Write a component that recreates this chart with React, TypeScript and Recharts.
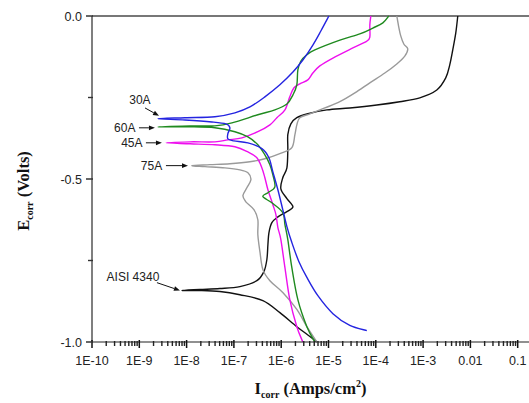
import React from "react";
import { LineChart, Line, XAxis, YAxis, ReferenceLine, ReferenceDot } from "recharts";

// polarization curves, path order: cathodic end -> Ecorr tip -> anodic end
const aisiI = [5.68e-6, 4.04e-6, 2.14e-6, 9.38e-7, 4.1e-7, 1.34e-7, 5.06e-8, 1.91e-8, 7.98e-9, 1.91e-8, 5.06e-8, 1.34e-7, 3.06e-7, 4.31e-7, 4.98e-7, 5.24e-7, 5.5e-7, 6.35e-7, 8.51e-7, 1.32e-6, 1.77e-6, 1.32e-6, 9.84e-7, 1.08e-6, 1.32e-6, 1.38e-6, 1.38e-6, 1.6e-6, 2.14e-6, 3.66e-6, 9.23e-6, 2.82e-5, 1.05e-4, 3.21e-4, 8.51e-4, 1.95e-3, 3.01e-3, 3.66e-3, 4.24e-3, 4.91e-3, 5.41e-3];
const aisiE = [-1.0, -0.983, -0.953, -0.91, -0.873, -0.855, -0.845, -0.842, -0.842, -0.839, -0.836, -0.83, -0.812, -0.784, -0.747, -0.701, -0.665, -0.634, -0.616, -0.6, -0.585, -0.56, -0.53, -0.496, -0.466, -0.41, -0.364, -0.331, -0.312, -0.3, -0.288, -0.282, -0.273, -0.263, -0.251, -0.227, -0.19, -0.15, -0.104, -0.052, 0];

const a30I = [6.46e-5, 2.82e-5, 1.24e-5, 5.96e-6, 3.49e-6, 2.36e-6, 1.68e-6, 1.32e-6, 1.08e-6, 8.51e-7, 6.67e-7, 5.5e-7, 3.91e-7, 1.98e-7, 1.0e-7, 7.46e-8, 7.46e-8, 8.24e-8, 6.78e-8, 3.43e-8, 9.23e-9, 2.48e-9, 9.23e-9, 3.97e-8, 1.05e-7, 2.18e-7, 4.52e-7, 9.38e-7, 1.77e-6, 2.87e-6, 4.67e-6, 6.89e-6, 1.02e-5];
const a30E = [-0.965, -0.949, -0.913, -0.858, -0.802, -0.753, -0.695, -0.646, -0.594, -0.533, -0.478, -0.435, -0.407, -0.389, -0.383, -0.377, -0.361, -0.343, -0.331, -0.325, -0.319, -0.315, -0.312, -0.309, -0.297, -0.279, -0.248, -0.211, -0.172, -0.135, -0.089, -0.046, 0];

const a45I = [2.87e-6, 2.14e-6, 1.52e-6, 1.2e-6, 9.84e-7, 8.51e-7, 7.73e-7, 6.67e-7, 5.24e-7, 4.52e-7, 3.91e-7, 3.06e-7, 1.98e-7, 1.05e-7, 3.97e-8, 1.18e-8, 3.66e-9, 1.18e-8, 3.97e-8, 7.46e-8, 1.48e-7, 3.21e-7, 5.77e-7, 8.11e-7, 1.2e-6, 1.52e-6, 1.85e-6, 2.48e-6, 3.66e-6, 4.67e-6, 6.56e-6, 1.24e-5, 3.27e-5, 6.46e-5, 7.48e-5, 7.48e-5, 7.85e-5];
const a45E = [-1.0, -0.953, -0.87, -0.772, -0.686, -0.649, -0.609, -0.579, -0.533, -0.496, -0.466, -0.435, -0.417, -0.401, -0.395, -0.392, -0.389, -0.386, -0.386, -0.38, -0.374, -0.355, -0.334, -0.312, -0.288, -0.248, -0.221, -0.208, -0.196, -0.175, -0.153, -0.129, -0.098, -0.077, -0.064, -0.028, 0];

const a60I = [5.14e-6, 3.49e-6, 2.25e-6, 1.68e-6, 1.38e-6, 1.2e-6, 1.08e-6, 6.35e-7, 4.1e-7, 5.24e-7, 7.35e-7, 6.67e-7, 5.77e-7, 4.52e-7, 3.21e-7, 1.98e-7, 1.05e-7, 3.97e-8, 1.18e-8, 2.48e-9, 1.18e-8, 3.97e-8, 9.08e-8, 3.21e-7, 7.35e-7, 1.32e-6, 1.77e-6, 2.14e-6, 2.25e-6, 2.61e-6, 3.49e-6, 5.14e-6, 1.74e-5, 4.59e-5, 8.65e-5, 1.41e-4, 1.88e-4];
const a60E = [-1.0, -0.953, -0.87, -0.772, -0.686, -0.64, -0.603, -0.573, -0.554, -0.542, -0.524, -0.487, -0.456, -0.426, -0.395, -0.371, -0.355, -0.343, -0.34, -0.34, -0.337, -0.337, -0.328, -0.303, -0.288, -0.27, -0.242, -0.211, -0.165, -0.138, -0.119, -0.104, -0.074, -0.055, -0.037, -0.021, 0];

const a75I = [5.68e-6, 3.49e-6, 2.14e-6, 1.08e-6, 5.77e-7, 4.1e-7, 3.55e-7, 3.21e-7, 3.21e-7, 2.65e-7, 1.79e-7, 1.55e-7, 1.88e-7, 2.29e-7, 1.98e-7, 1.34e-7, 6.46e-8, 2.44e-8, 1.3e-8, 3.11e-8, 8.24e-8, 2.18e-7, 4.52e-7, 1.03e-6, 1.68e-6, 1.95e-6, 2.14e-6, 2.48e-6, 4.04e-6, 8.37e-6, 1.74e-5, 3.61e-5, 7.48e-5, 1.55e-4, 2.78e-4, 4.1e-4, 4.74e-4, 3.91e-4, 3.37e-4, 3.06e-4, 2.78e-4];
const a75E = [-1.0, -0.953, -0.9, -0.848, -0.812, -0.778, -0.723, -0.671, -0.625, -0.594, -0.57, -0.551, -0.527, -0.502, -0.481, -0.472, -0.466, -0.462, -0.459, -0.456, -0.453, -0.447, -0.438, -0.42, -0.404, -0.364, -0.334, -0.312, -0.3, -0.282, -0.263, -0.236, -0.205, -0.175, -0.147, -0.123, -0.101, -0.086, -0.061, -0.034, 0];

const xMajorTicks = [1e-10, 1e-9, 1e-8, 1e-7, 1e-6, 1e-5, 1e-4, 1e-3, 0.01, 0.1];
const xTickLabels = ["1E-10", "1E-9", "1E-8", "1E-7", "1E-6", "1E-5", "1E-4", "1E-3", "0.01", "0.1"];
const yMajorTicks = [-1, -0.5, 0];
const yTickLabels = ["-1.0", "-0.5", "0.0"];

// curve labels with arrows (text anchor point, arrow tail, arrow head)
const noteText = ["30A", "60A", "45A", "75A", "AISI 4340"];
const noteI = [1.03e-9, 8.3e-10, 1.17e-9, 3.05e-9, 7.35e-10];
const noteE = [-0.257, -0.343, -0.389, -0.459, -0.799];
const noteAnchor = ["middle", "end", "end", "end", "middle"];
const tailI = [1.32e-9, 9.84e-10, 1.38e-9, 3.66e-9, 2.36e-9];
const tailE = [-0.282, -0.343, -0.389, -0.459, -0.818];
const headI = [2.61e-9, 2.14e-9, 3.01e-9, 1.07e-8, 7.23e-9];
const headE = [-0.306, -0.343, -0.389, -0.459, -0.842];

const X_MIN = 1e-10;
const X_MAX = 0.1734;
const Y_MIN = -1;
const Y_MAX = 0;
const DECADES = Math.log10(X_MAX / X_MIN);

const toRows = (xs: number[], ys: number[]) => xs.map((i, k) => ({ i, e: ys[k] }));

const series = [
  { name: "AISI 4340", data: toRows(aisiI, aisiE), color: "#111111" },
  { name: "75A", data: toRows(a75I, a75E), color: "#9a9a9a" },
  { name: "45A", data: toRows(a45I, a45E), color: "#ee10ee" },
  { name: "60A", data: toRows(a60I, a60E), color: "#1f8a1f" },
  { name: "30A", data: toRows(a30I, a30E), color: "#2424e0" },
];

// uniform catmull-rom through every point (parametric, so curves may fold back)
function catmullRom(context: any) {
  let pts: number[][] = [];
  return {
    areaStart() {},
    areaEnd() {},
    lineStart() {
      pts = [];
    },
    point(x: number, y: number) {
      pts.push([+x, +y]);
    },
    lineEnd() {
      if (!pts.length) return;
      context.moveTo(pts[0][0], pts[0][1]);
      const t = 6;
      for (let k = 0; k < pts.length - 1; k++) {
        const p0 = pts[Math.max(k - 1, 0)];
        const p1 = pts[k];
        const p2 = pts[k + 1];
        const p3 = pts[Math.min(k + 2, pts.length - 1)];
        context.bezierCurveTo(
          p1[0] + (p2[0] - p0[0]) / t,
          p1[1] + (p2[1] - p0[1]) / t,
          p2[0] - (p3[0] - p1[0]) / t,
          p2[1] - (p3[1] - p1[1]) / t,
          p2[0],
          p2[1]
        );
      }
    },
  };
}

const tickFont = "'Liberation Sans', Arial, sans-serif";
const titleFont = "'Liberation Serif', 'Times New Roman', serif";

// major decade tick + label, with the 2..9 minor marks of that decade
function XTick({ x, y, payload, width }: any) {
  const idx = xMajorTicks.findIndex((m) => Math.abs(m - payload.value) / m < 1e-6);
  const decadePx = (width || 437) / DECADES;
  const minors: number[] = [];
  for (let k = 2; k <= 9; k++) {
    if (payload.value * k <= X_MAX) minors.push(x + Math.log10(k) * decadePx);
  }
  return (
    <g>
      <line x1={x} x2={x} y1={y - 2} y2={y + 6} stroke="#111" strokeWidth={1.5} />
      {minors.map((mx, k) => (
        <line key={k} x1={mx} x2={mx} y1={y - 1} y2={y + 4} stroke="#222" strokeWidth={1.4} />
      ))}
      <text x={x} y={y + 23} textAnchor="middle" fontSize={12.5} fontFamily={tickFont} fill="#222">
        {xTickLabels[idx]}
      </text>
    </g>
  );
}

// major tick + label, with a minor mark half way to the next major above
function YTick({ x, y, payload, height }: any) {
  const idx = yMajorTicks.indexOf(payload.value);
  const stepPx = ((height || 326) / (Y_MAX - Y_MIN)) * 0.25;
  const my = y - stepPx;
  return (
    <g>
      <line x1={x - 6} x2={x + 1} y1={y} y2={y} stroke="#333" strokeWidth={1.5} />
      {payload.value < Y_MAX && <line x1={x - 4} x2={x + 1} y1={my} y2={my} stroke="#333" strokeWidth={1.4} />}
      <text x={x - 10} y={y} dy="0.36em" textAnchor="end" fontSize={12.5} fontFamily={tickFont} fill="#222">
        {yTickLabels[idx]}
      </text>
    </g>
  );
}

function XTitle({ viewBox }: any) {
  const cx = viewBox.x + viewBox.width / 2;
  return (
    <text x={cx} y={viewBox.y + 52} textAnchor="middle" fontFamily={titleFont} fontWeight="bold" fontSize={16.5} fill="#111">
      I
      <tspan fontSize={10} dy={4}>corr</tspan>
      <tspan dy={-4}> (Amps/cm</tspan>
      <tspan fontSize={10} dy={-7}>2</tspan>
      <tspan dy={7}>)</tspan>
    </text>
  );
}

function YTitle({ viewBox }: any) {
  const cx = 29;
  const cy = viewBox.y + viewBox.height / 2 + 12;
  return (
    <text
      x={cx}
      y={cy}
      transform={`rotate(-90, ${cx}, ${cy})`}
      textAnchor="middle"
      fontFamily={titleFont}
      fontWeight="bold"
      fontSize={16.5}
      fill="#111"
    >
      E
      <tspan fontSize={10} dy={4}>corr</tspan>
      <tspan dy={-4}> (Volts)</tspan>
    </text>
  );
}

function Arrow({ x1, y1, x2, y2 }: any) {
  const dx = x2 - x1;
  const dy = y2 - y1;
  const len = Math.hypot(dx, dy) || 1;
  const ux = dx / len;
  const uy = dy / len;
  const hl = 6;
  const hw = 2.4;
  const bx = x2 - ux * hl;
  const by = y2 - uy * hl;
  return (
    <g>
      <line x1={x1} y1={y1} x2={bx} y2={by} stroke="#111" strokeWidth={1} />
      <polygon points={`${x2},${y2} ${bx - uy * hw},${by + ux * hw} ${bx + uy * hw},${by - ux * hw}`} fill="#111" />
    </g>
  );
}

export default function App() {
  return (
    <div style={{ position: "absolute", left: 0, top: 0, background: "#fff" }}>
      <LineChart width={529} height={403} margin={{ top: 16, right: 0, bottom: 0, left: 0 }}>
        <XAxis
          dataKey="i"
          type="number"
          scale="log"
          domain={[X_MIN, X_MAX]}
          allowDataOverflow
          ticks={xMajorTicks}
          interval={0}
          tick={<XTick />}
          tickLine={false}
          tickSize={0}
          tickMargin={0}
          axisLine={{ stroke: "#222", strokeWidth: 1.2 }}
          height={61}
          label={(props: any) => <XTitle {...props} />}
        />
        <YAxis
          dataKey="e"
          type="number"
          domain={[Y_MIN, Y_MAX]}
          ticks={yMajorTicks}
          tickCount={3}
          interval={0}
          tick={<YTick />}
          tickLine={false}
          tickSize={0}
          tickMargin={0}
          axisLine={{ stroke: "#555", strokeWidth: 1.5 }}
          width={92}
          label={(props: any) => <YTitle {...props} />}
        />
        <ReferenceLine y={Y_MAX} stroke="#777" strokeWidth={2} />
        {series.map((s) => (
          <Line
            key={s.name}
            data={s.data}
            dataKey="e"
            type={catmullRom as any}
            stroke={s.color}
            strokeWidth={1.4}
            dot={false}
            activeDot={false}
            isAnimationActive={false}
          />
        ))}
        {noteText.map((t, k) => (
          <ReferenceLine
            key={"a" + t}
            segment={[
              { x: tailI[k], y: tailE[k] },
              { x: headI[k], y: headE[k] },
            ]}
            ifOverflow="visible"
            shape={(p: any) => <Arrow {...p} />}
          />
        ))}
        {noteText.map((t, k) => (
          <ReferenceDot
            key={"t" + t}
            x={noteI[k]}
            y={noteE[k]}
            r={0}
            ifOverflow="visible"
            shape={(p: any) => (
              <text
                x={p.cx}
                y={p.cy}
                dy="0.36em"
                textAnchor={noteAnchor[k] as any}
                fontSize={12}
                fontFamily={tickFont}
                fill="#222"
              >
                {t}
              </text>
            )}
          />
        ))}
      </LineChart>
    </div>
  );
}
